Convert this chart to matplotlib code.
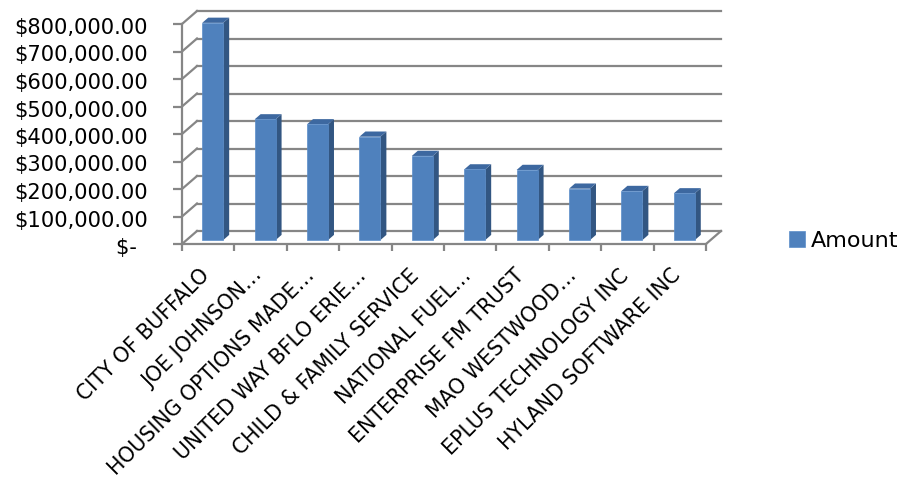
import matplotlib
matplotlib.use("Agg")
import matplotlib.pyplot as plt
from matplotlib.patches import Polygon
from matplotlib.transforms import ScaledTranslation
import numpy as np

categories = ["CITY OF BUFFALO", "JOE JOHNSON…", "HOUSING OPTIONS MADE…",
              "UNITED WAY BFLO ERIE…", "CHILD & FAMILY SERVICE", "NATIONAL FUEL…",
              "ENTERPRISE FM TRUST", "MAO WESTWOOD…", "EPLUS TECHNOLOGY INC",
              "HYLAND SOFTWARE INC"]
amounts = [790000, 439000, 421000, 376000, 306000, 257000, 255000, 187000, 178500, 170000]
yticks = [0, 100000, 200000, 300000, 400000, 500000, 600000, 700000, 800000]
ytick_labels = ["$- \u2009", "$100,000.00", "$200,000.00", "$300,000.00", "$400,000.00",
                "$500,000.00", "$600,000.00", "$700,000.00", "$800,000.00"]
series_name = "Amount"

plt.rcParams['font.family'] = ['DejaVu Sans']
FS_Y = 15.1
FS_X = 14.8
FS_L = 16.0

W, H = 913, 479
fig = plt.figure(figsize=(W / 100, H / 100), dpi=100)

px_cat = 52.4          # pixels per category
px_val = 27.5 / 100000  # pixels per value unit
DX = 15 / px_cat       # depth offset in category units
DY = 13 / px_val       # depth offset in value units
XMAX, YMAX = 10.3, 850000

left_px, bottom_px = 182, 244
ax = fig.add_axes([left_px / W, (H - bottom_px) / H, XMAX * px_cat / W, YMAX * px_val / H])
ax.set_xlim(0, XMAX)
ax.set_ylim(0, YMAX)
for s in ax.spines.values():
    s.set_visible(False)

GRID = '#868686'
LW = 1.6
n = len(categories)
# back wall + left wall gridlines
for v in yticks:
    ax.plot([DX, n + DX], [v + DY, v + DY], color=GRID, lw=LW, clip_on=False, zorder=1)
    ax.plot([0, DX], [v, v + DY], color=GRID, lw=LW, clip_on=False, zorder=1)
# floor edges and front axis
ax.plot([0, n], [0, 0], color=GRID, lw=LW, clip_on=False, zorder=1)
ax.plot([n, n + DX], [0, DY], color=GRID, lw=LW, clip_on=False, zorder=1)
ax.plot([0, 0], [0, yticks[-1]], color=GRID, lw=LW, clip_on=False, zorder=1)

# bars
FRONT, SIDE, TOP = '#4F81BD', '#325682', '#3D68A0'
z0, zd = 0.3, 0.4
bw = 0.4
xc = np.arange(n) + 0.5
bars = ax.bar(xc + z0 * DX, amounts, width=bw, bottom=z0 * DY, color=FRONT,
              edgecolor='#5B8DC9', linewidth=0.5, zorder=3, label=series_name)
for x, v in zip(xc + z0 * DX, amounts):
    b = z0 * DY
    side = Polygon([(x + bw / 2, b), (x + bw / 2 + zd * DX, b + zd * DY),
                    (x + bw / 2 + zd * DX, b + v + zd * DY), (x + bw / 2, b + v)],
                   closed=True, facecolor=SIDE, edgecolor='none', zorder=2)
    top = Polygon([(x - bw / 2, b + v), (x + bw / 2, b + v),
                   (x + bw / 2 + zd * DX, b + v + zd * DY), (x - bw / 2 + zd * DX, b + v + zd * DY)],
                  closed=True, facecolor=TOP, edgecolor='none', zorder=2)
    ax.add_patch(side)
    ax.add_patch(top)

# y axis ticks
ax.set_yticks(yticks)
ax.set_yticklabels(ytick_labels, fontsize=FS_Y, color='black')
ax.tick_params(axis='y', direction='out', length=6.5, width=LW, color=GRID, pad=18)
for lbl in ax.get_yticklabels():
    lbl.set_transform(lbl.get_transform() + ScaledTranslation(0, -2 / 100, fig.dpi_scale_trans))

# x ticks: boundaries (marks) and centres (labels)
ax.set_xticks(np.arange(n + 1))
ax.set_xticklabels([])
ax.set_xticks(xc, minor=True)
ax.set_xticklabels(categories, minor=True, fontsize=FS_X, rotation=45,
                   ha='right', va='center', rotation_mode='anchor')
ax.tick_params(axis='x', which='major', direction='out', length=5, width=LW, color=GRID)
ax.tick_params(axis='x', which='minor', length=0, pad=20.5)
for lbl in ax.get_xticklabels(minor=True):
    lbl.set_transform(lbl.get_transform() + ScaledTranslation(-2 / 100, 0, fig.dpi_scale_trans))

fig.legend(handles=[bars], labels=[series_name], loc='center left',
           bbox_to_anchor=(789 / W, (H - 241) / H), frameon=False, fontsize=FS_L,
           borderpad=0, borderaxespad=0, handlelength=0.7, handleheight=0.7,
           handletextpad=0.3)

fig.savefig('out.png', dpi=100)
